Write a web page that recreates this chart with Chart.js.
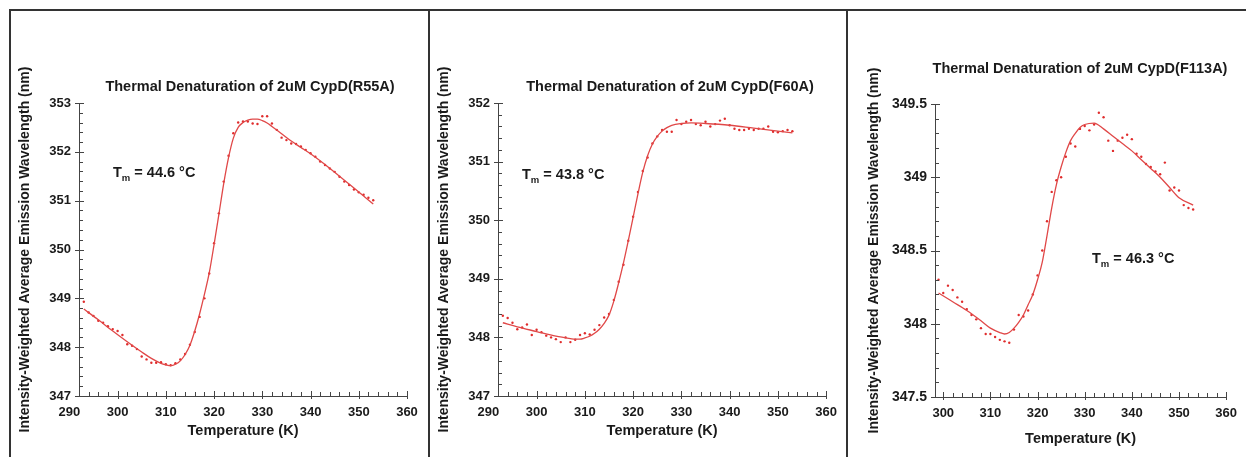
<!DOCTYPE html>
<html>
<head>
<meta charset="utf-8">
<script src="https://cdn.jsdelivr.net/npm/chart.js@4.4.1/dist/chart.umd.min.js"></script>
<style>
  html, body { margin: 0; padding: 0; background: #fff; }
  #page { position: relative; width: 1246px; height: 457px; overflow: hidden; }
  canvas { position: absolute; top: 0; }
  .rule { position: absolute; background: #333; }
</style>
</head>
<body>
<div id="page">
  <canvas id="c1" width="428" height="457" style="left:0;width:428px;height:457px"></canvas>
  <canvas id="c2" width="416" height="457" style="left:430px;width:416px;height:457px"></canvas>
  <canvas id="c3" width="397" height="457" style="left:849px;width:397px;height:457px"></canvas>
  <div class="rule" style="left:9px;top:9px;width:1237px;height:2px"></div>
  <div class="rule" style="left:9px;top:9px;width:2px;height:448px"></div>
  <div class="rule" style="left:428px;top:9px;width:2px;height:448px"></div>
  <div class="rule" style="left:846px;top:9px;width:2px;height:448px"></div>
</div>
<script>
// ---- R55A ----
const r55aTemps = [293,294,295,296,297,298,299,300,301,302,303,304,305,306,307,308,309,310,311,312,313,314,315,316,317,318,319,320,321,322,323,324,325,326,327,328,329,330,331,332,333,334,335,336,337,338,339,340,341,342,343,344,345,346,347,348,349,350,351,352,353];
const r55aValues = [348.93,348.71,348.64,348.54,348.50,348.43,348.37,348.33,348.25,348.06,348.03,347.96,347.81,347.75,347.68,347.68,347.69,347.65,347.63,347.67,347.75,347.86,348.05,348.31,348.62,349.00,349.51,350.13,350.74,351.39,351.92,352.38,352.60,352.62,352.62,352.58,352.57,352.73,352.73,352.58,352.45,352.29,352.24,352.17,352.16,352.11,352.04,351.97,351.90,351.80,351.73,351.66,351.59,351.49,351.39,351.32,351.23,351.17,351.12,351.06,351.01];
const r55aFitTemps = [293,296,299,302,305,307,309,310,311,312,313,314,315,316,317,318,319,320,321,322,323,324,325,326,327,328,329,330,331,332,334,336,338,340,343,346,350,353];
const r55aFitValues = [348.78,348.56,348.33,348.11,347.90,347.77,347.67,347.64,347.62,347.65,347.72,347.85,348.04,348.33,348.68,349.08,349.52,350.10,350.72,351.35,351.88,352.28,352.50,352.60,352.65,352.67,352.67,352.64,352.59,352.52,352.37,352.22,352.09,351.96,351.74,351.50,351.18,350.93];

// ---- F60A ----
const f60aTemps = [293,294,295,296,297,298,299,300,301,302,303,304,305,306,307,308,309,310,311,312,313,314,315,316,317,318,319,320,321,322,323,324,325,326,327,328,329,330,331,332,333,334,335,336,337,338,339,340,341,342,343,344,345,346,347,348,349,350,351,352,353];
const f60aValues = [348.37,348.33,348.25,348.14,348.17,348.22,348.04,348.13,348.09,348.03,348.00,347.97,347.92,348.00,347.92,347.96,348.04,348.07,348.05,348.13,348.21,348.34,348.40,348.64,348.95,349.24,349.65,350.06,350.48,350.84,351.07,351.31,351.43,351.54,351.51,351.51,351.71,351.64,351.68,351.71,351.64,351.62,351.68,351.60,351.64,351.70,351.73,351.62,351.56,351.54,351.54,351.56,351.54,351.56,351.56,351.60,351.51,351.50,351.52,351.54,351.52];
const f60aFitTemps = [293,296,300,304,307,308,309,310,311,312,313,314,315,316,317,318,319,320,321,322,323,324,325,326,327,328,330,332,335,340,345,350,353];
const f60aFitValues = [348.25,348.18,348.10,348.02,347.98,347.97,347.97,347.99,348.02,348.07,348.14,348.24,348.38,348.62,348.93,349.27,349.65,350.05,350.45,350.82,351.10,351.30,351.43,351.52,351.58,351.62,351.65,351.66,351.65,351.62,351.57,351.52,351.49];

// ---- F113A ----
const f113aTemps = [299,300,301,302,303,304,305,306,307,308,309,310,311,312,313,314,315,316,317,318,319,320,321,322,323,324,325,326,327,328,329,330,331,332,333,334,335,336,337,338,339,340,341,342,343,344,345,346,347,348,349,350,351,352,353];
const f113aValues = [348.30,348.21,348.26,348.23,348.18,348.15,348.10,348.06,348.03,347.97,347.93,347.93,347.91,347.89,347.88,347.87,347.96,348.06,348.05,348.09,348.20,348.33,348.50,348.70,348.90,348.98,349.00,349.14,349.23,349.21,349.33,349.35,349.32,349.36,349.44,349.41,349.25,349.18,349.25,349.27,349.29,349.26,349.16,349.14,349.09,349.07,349.04,349.02,349.10,348.91,348.93,348.91,348.81,348.79,348.78];
const f113aFitTemps = [299,302,305,308,310,312,313,314,315,316,317,318,319,320,321,322,323,324,325,326,327,328,329,330,332,334,336,338,340,342,344,346,348,350,353];
const f113aFitValues = [348.21,348.15,348.09,348.02,347.97,347.94,347.93,347.94,347.97,348.01,348.06,348.13,348.20,348.30,348.42,348.60,348.79,348.95,349.07,349.17,349.25,349.30,349.34,349.36,349.37,349.33,349.28,349.23,349.18,349.12,349.06,349.00,348.93,348.86,348.81];

// tick labels
const xTicksA = [290,300,310,320,330,340,350,360];
const xTicksB = [300,310,320,330,340,350,360];
const yTicksR55A = [347,348,349,350,351,352,353];
const yTicksF60A = [347,348,349,350,351,352];
const yTicksF113A = [347.5,348,348.5,349,349.5];

const FONT = '"Liberation Sans", Arial, sans-serif';
const INK = '#1a1a1a';

function pairs(xs, ys) { return xs.map((x, i) => ({x: x, y: ys[i]})); }

// inward minor ticks + major ticks, titles and Tm label
const decor = {
  id: 'decor',
  afterDraw(chart, args, o) {
    const ctx = chart.ctx, xs = chart.scales.x, ys = chart.scales.y, a = chart.chartArea;
    ctx.save();
    ctx.strokeStyle = '#444';
    ctx.lineWidth = 1;
    ctx.beginPath();
    for (let v = o.xMinorFrom; v <= xs.max + 1e-9; v += o.xMinorStep) {
      const p = Math.round(xs.getPixelForValue(v)) + 0.5;
      const major = Math.abs(v / 10 - Math.round(v / 10)) < 1e-6;
      ctx.moveTo(p, a.bottom + (major ? 3 : 0));
      ctx.lineTo(p, a.bottom - (major ? 5 : 4));
    }
    for (let i = 0; ; i++) {
      const v = ys.min + i * o.yMinorStep;
      if (v > ys.max + 1e-9) break;
      const p = Math.round(ys.getPixelForValue(v)) + 0.5;
      const major = i % 5 === 0;
      ctx.moveTo(a.left - (major ? 4 : 0), p);
      ctx.lineTo(a.left + (major ? 5 : 4), p);
    }
    ctx.stroke();

    ctx.fillStyle = INK;
    ctx.textBaseline = 'alphabetic';
    ctx.textAlign = 'center';
    ctx.font = 'bold 14.5px ' + FONT;
    ctx.fillText(o.title, o.titleX, o.titleY);

    ctx.textAlign = 'left';
    let x = o.tmX;
    ctx.font = 'bold 14.5px ' + FONT;
    ctx.fillText('T', x, o.tmY);
    x += ctx.measureText('T').width;
    ctx.font = 'bold 9.5px ' + FONT;
    ctx.fillText('m', x, o.tmY + 3.5);
    x += ctx.measureText('m').width;
    ctx.font = 'bold 14.5px ' + FONT;
    ctx.fillText(' = ' + o.tm + ' °C', x, o.tmY);
    ctx.restore();
  }
};

function makeChart(id, p) {
  return new Chart(document.getElementById(id), {
    type: 'scatter',
    data: {
      datasets: [
        {
          type: 'line',
          data: pairs(p.fitTemps, p.fitValues),
          borderColor: '#e04848',
          borderWidth: 1.3,
          pointRadius: 0,
          cubicInterpolationMode: 'monotone',
          fill: false
        },
        {
          data: pairs(p.temps, p.values),
          pointRadius: 1.2,
          pointBackgroundColor: '#e02c2c',
          pointBorderWidth: 0
        }
      ]
    },
    options: {
      responsive: false,
      animation: false,
      layout: { padding: { left: 0, top: p.top, right: p.right, bottom: 0 } },
      plugins: {
        legend: { display: false },
        tooltip: { enabled: false },
        decor: p.decor
      },
      scales: {
        x: {
          type: 'linear',
          min: p.xMin,
          max: 360,
          afterBuildTicks: s => { s.ticks = p.xTicks.map(v => ({ value: v })); },
          afterFit: s => { s.height = p.xHeight; },
          grid: { display: false, drawTicks: false },
          border: { color: '#444', width: 1 },
          ticks: {
            padding: 9,
            autoSkip: false,
            maxRotation: 0,
            color: INK,
            font: { family: FONT, size: 13, weight: 'bold' },
            callback: v => String(v)
          },
          title: {
            display: true,
            text: 'Temperature (K)',
            color: INK,
            font: { family: FONT, size: 14.5, weight: 'bold' },
            padding: { top: 0, bottom: p.xTitlePad }
          }
        },
        y: {
          type: 'linear',
          min: p.yTicks[0],
          max: p.yTicks[p.yTicks.length - 1],
          afterBuildTicks: s => { s.ticks = p.yTicks.map(v => ({ value: v })); },
          afterFit: s => { s.width = p.yWidth; },
          grid: { display: false, drawTicks: false },
          border: { color: '#444', width: 1 },
          ticks: {
            padding: 8,
            autoSkip: false,
            color: INK,
            font: { family: FONT, size: p.yFont, weight: 'bold' },
            callback: v => String(v)
          },
          title: {
            display: true,
            text: 'Intensity-Weighted Average Emission Wavelength (nm)',
            color: INK,
            font: { family: FONT, size: 14, weight: 'bold' },
            padding: { top: p.yTitlePad, bottom: 0 }
          }
        }
      }
    },
    plugins: [decor]
  });
}

makeChart('c1', {
  temps: r55aTemps, values: r55aValues, fitTemps: r55aFitTemps, fitValues: r55aFitValues,
  xMin: 292, xTicks: xTicksA, yTicks: yTicksR55A, yFont: 13,
  top: 103, right: 21, xHeight: 61, yWidth: 79, yTitlePad: 16.6, xTitlePad: 17,
  decor: { xMinorFrom: 292, xMinorStep: 2, yMinorStep: 0.2,
    title: 'Thermal Denaturation of 2uM CypD(R55A)', titleX: 250, titleY: 91,
    tm: '44.6', tmX: 113, tmY: 177 }
});

makeChart('c2', {
  temps: f60aTemps, values: f60aValues, fitTemps: f60aFitTemps, fitValues: f60aFitValues,
  xMin: 292, xTicks: xTicksA, yTicks: yTicksF60A, yFont: 13,
  top: 103, right: 18, xHeight: 61, yWidth: 68, yTitlePad: 5.6, xTitlePad: 17,
  decor: { xMinorFrom: 292, xMinorStep: 2, yMinorStep: 0.2,
    title: 'Thermal Denaturation of 2uM CypD(F60A)', titleX: 240, titleY: 91,
    tm: '43.8', tmX: 92, tmY: 179 }
});

makeChart('c3', {
  temps: f113aTemps, values: f113aValues, fitTemps: f113aFitTemps, fitValues: f113aFitValues,
  xMin: 298.25, xTicks: xTicksB, yTicks: yTicksF113A, yFont: 14,
  top: 104, right: 17, xHeight: 60, yWidth: 86, yTitlePad: 16.6, xTitlePad: 9,
  decor: { xMinorFrom: 300, xMinorStep: 2, yMinorStep: 0.1,
    title: 'Thermal Denaturation of 2uM CypD(F113A)', titleX: 231, titleY: 73,
    tm: '46.3', tmX: 243, tmY: 263 }
});
</script>
</body>
</html>
